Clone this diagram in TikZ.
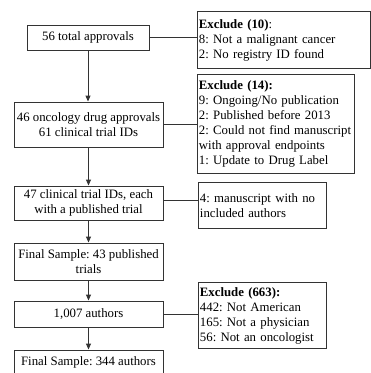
\documentclass[tikz,border=0pt]{standalone}
\usepackage{fontspec}
\setmainfont{Liberation Serif}
\usetikzlibrary{arrows.meta}
\frenchspacing
\begin{document}
\begin{tikzpicture}[x=1pt,y=-1pt,
  font=\fontsize{12.8}{15}\selectfont,
  stage/.style={draw=black!80, line width=0.9pt, align=center, inner sep=0pt,
    minimum width=149pt},
  excl/.style={draw=black!80, line width=0.9pt, align=left, inner xsep=1.5pt,
    inner ysep=0pt, anchor=north west},
  link/.style={draw=black!80, line width=0.9pt},
  flow/.style={link, -{Triangle[length=6pt,width=5pt]}}]
\useasboundingbox (0,0) rectangle (371,373);

% main column
\node[stage, minimum width=122pt, minimum height=25pt] (b1) at (88,37.5) {56 total approvals};
\node[stage, minimum height=45pt] (b2) at (88.5,124.5) {46 oncology drug approvals\\61 clinical trial IDs};
\node[stage, minimum height=34pt] (b3) at (88.5,203) {47 clinical trial IDs, each\\with a published trial};
\node[stage, minimum height=37pt] (b4) at (88.5,261.5) {Final Sample: 43 published\\trials};
\node[stage, minimum height=26pt] (b5) at (88.5,314) {1,007 authors};
\node[stage, minimum height=24pt] (b6) at (88.5,362) {Final Sample: 344 authors};

% exclusion boxes
\node[excl, minimum width=173pt, minimum height=57pt, text width=170pt] (x1) at (197,11)
  {\textbf{Exclude (10)}:\\8: Not a malignant cancer\\2: No registry ID found};
\node[excl, minimum width=157pt, minimum height=99pt, text width=154pt] (x2) at (197,74)
  {\textbf{Exclude (14):}\\9: Ongoing/No publication\\2: Published before 2013\\2: Could not find manuscript\\with approval endpoints\\1: Update to Drug Label};
\node[excl, minimum width=128pt, minimum height=46pt, text width=125pt] (x3) at (198,182)
  {4: manuscript with no\\included authors};
\node[excl, minimum width=128pt, minimum height=66pt, text width=125pt] (x4) at (198,282)
  {\textbf{Exclude (663):}\\442: Not American\\165: Not a physician\\56: Not an oncologist};

% flow arrows
\draw[flow] (b1.south) -- (b1.south |- b2.north);
\draw[flow] (b2) -- (b3);
\draw[flow] (b3) -- (b4);
\draw[flow] (b4) -- (b5);
\draw[flow] (b5) -- (b6);

% exclusion links
\draw[link] (b1.east) -- (b1.east -| x1.west);
\draw[link] (b2.east) -- (b2.east -| x2.west);
\draw[link] ([yshift=3pt]b3.east) -- ([yshift=3pt]b3.east -| x3.west);
\draw[link] (b5.east) -- (b5.east -| x4.west);
\end{tikzpicture}
\end{document}
